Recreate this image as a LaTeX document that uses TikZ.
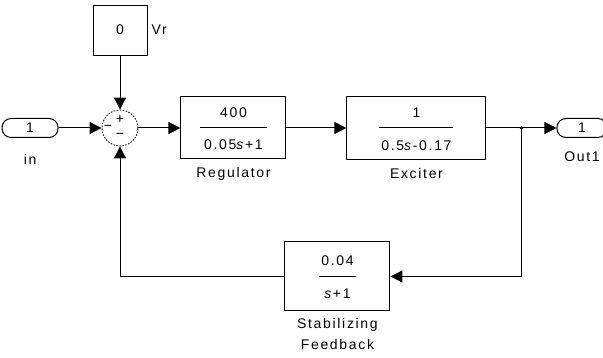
\documentclass[tikz,border=0pt]{standalone}
\usepackage{fontspec}
\setmainfont{Liberation Sans}
\newfontfamily\blkfont[LetterSpace=12]{Liberation Sans}
\newcommand{\blktext}{\blkfont\fontsize{14}{16}\selectfont}
\usetikzlibrary{arrows.meta,positioning}

\begin{document}
\begin{tikzpicture}[
x=1pt, y=-1pt,
blk/.style={draw, line width=1pt, minimum width=105pt, minimum height=62pt, inner sep=0pt, font=\blktext},
port/.style={draw, line width=1pt, rounded corners=9pt, minimum width=56pt, minimum height=19pt, inner sep=0pt, font=\blktext},
sumnode/.style={draw, circle, dash pattern=on 1.5pt off 1.5pt, line width=0.9pt, minimum size=36pt, inner sep=0pt},
txt/.style={font=\blktext, inner sep=0pt},
bar/.style={line width=1pt},
arr/.style={-{Triangle[length=12pt, width=12pt]}, line width=1pt}
]
\useasboundingbox (0,0) rectangle (603,358);

\node[sumnode] (sum) at (120,128) {};
\node[txt] (plus) at ([yshift=9pt]sum.center) {+};
\node[txt] (minusl) at ([xshift=-12pt]sum.center) {−};
\node[txt] (minusb) at ([yshift=-8pt]sum.center) {−};

\node[port, left=43pt of sum] (in) {1};
\node[txt, below=16pt of in] (inlbl) {in};

\node[blk, minimum width=54pt, minimum height=50pt, above=54pt of sum] (vr) {0};
\node[txt, right=4pt of vr] (vrlbl) {Vr};

% regulator
\node[blk, right=42pt of sum] (reg) {};
\node[txt] (regnum) at ([yshift=15pt]reg.center) {400};
\node[txt] (regden) at ([yshift=-17pt]reg.center) {0.05\textit{s}+1};
\draw[bar] ([xshift=-33.5pt]reg.center) -- ([xshift=33.5pt]reg.center);
\node[txt, below=8pt of reg] (reglbl) {Regulator};

% exciter
\node[blk, minimum width=139pt, minimum height=63pt, right=60pt of reg] (exc) {};
\node[txt] (excnum) at ([yshift=15pt]exc.center) {1};
\node[txt] (excden) at ([yshift=-17.5pt]exc.center) {0.5\textit{s}-0.17};
\draw[bar] ([xshift=-37pt]exc.center) -- ([xshift=37pt]exc.center);
\node[txt, below=8pt of exc] (exclbl) {Exciter};

\coordinate[right=35pt of exc] (br);
\node[port, minimum width=50pt, right=35pt of br] (out) {1};
\node[txt, below=14pt of out] (outlbl) {Out1};

% stabilizing feedback
\node[blk, minimum height=69pt, below=82pt of reg, xshift=104pt] (fb) {};
\node[txt] (fbnum) at ([yshift=15.5pt]fb.center) {0.04};
\node[txt] (fbden) at ([yshift=-17.5pt]fb.center) {\textit{s}+1};
\draw[bar] ([xshift=-18.5pt]fb.center) -- ([xshift=18.5pt]fb.center);
\node[txt, align=center, font=\blkfont\fontsize{14}{21}\selectfont, below=7pt of fb] (fblbl) {Stabilizing\\Feedback};

\draw[arr] (in) -- (sum);
\draw[arr] (vr) -- (sum);
\draw[arr] (sum) -- (reg);
\draw[arr] (reg) -- (exc);
\draw[line width=1pt] (exc) -- (br);
\draw[arr] (br) -- (out);
\draw[arr] (br) |- (fb);
\draw[arr] (fb) -| (sum);
\fill (br) circle (1.8pt);

\end{tikzpicture}
\end{document}
